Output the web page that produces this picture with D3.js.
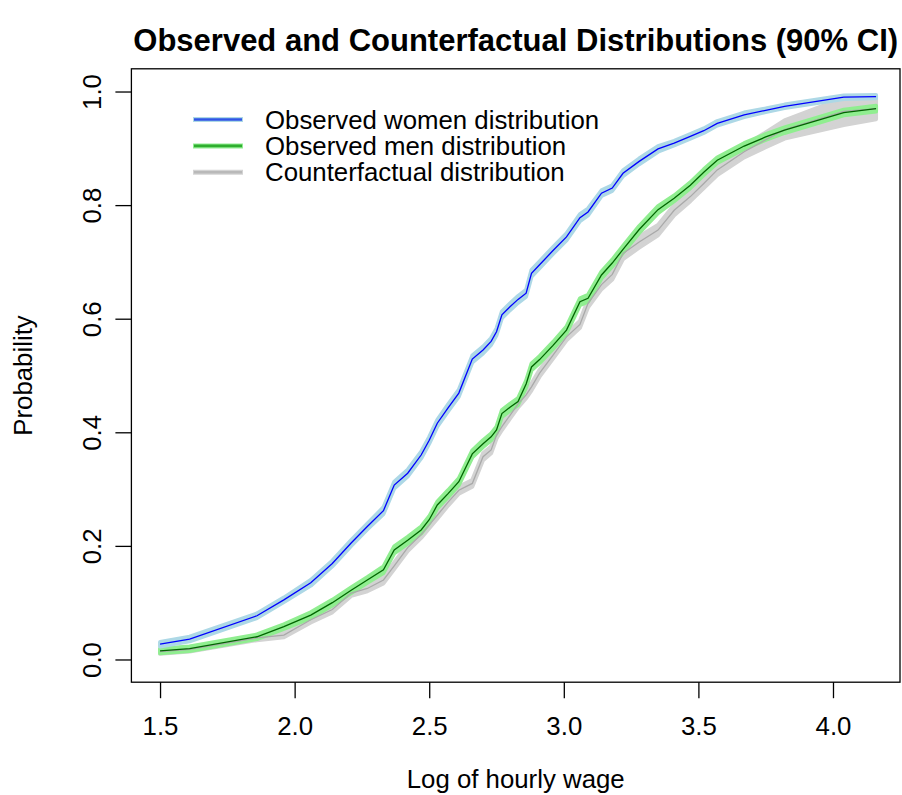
<html>
<head>
<script src="https://cdn.jsdelivr.net/npm/d3@7"></script>
<style>
  body { margin: 0; background: #fff; }
  svg text { font-family: "Liberation Sans", Arial, sans-serif; fill: #000; }
</style>
</head>
<body>
<script>
// log hourly wage grid
var wage = [1.50, 1.61, 1.86, 1.96, 2.06, 2.14, 2.21, 2.27, 2.33, 2.37, 2.42, 2.47, 2.50, 2.53, 2.57,
            2.61, 2.66, 2.70, 2.73, 2.75, 2.77, 2.80, 2.83, 2.86, 2.88, 2.91, 2.96, 3.01, 3.06, 3.09,
            3.14, 3.18, 3.22, 3.28, 3.35, 3.41, 3.47, 3.52, 3.57, 3.67, 3.75, 3.82, 4.04, 4.16];
// observed women
var women = [0.027, 0.036, 0.077, 0.105, 0.135, 0.169, 0.205, 0.234, 0.262, 0.307, 0.328, 0.360, 0.386, 0.416, 0.443,
             0.469, 0.529, 0.545, 0.560, 0.577, 0.607, 0.621, 0.634, 0.645, 0.680, 0.695, 0.720, 0.744, 0.778, 0.788,
             0.821, 0.830, 0.856, 0.877, 0.899, 0.909, 0.921, 0.931, 0.944, 0.959, 0.967, 0.974, 0.990, 0.991];
// observed men
var men = [0.015, 0.019, 0.040, 0.058, 0.078, 0.100, 0.122, 0.140, 0.158, 0.193, 0.210, 0.228, 0.246, 0.272, 0.292,
           0.313, 0.362, 0.380, 0.392, 0.404, 0.433, 0.444, 0.454, 0.485, 0.515, 0.528, 0.553, 0.580, 0.630, 0.636,
           0.677, 0.698, 0.722, 0.757, 0.792, 0.812, 0.835, 0.858, 0.879, 0.904, 0.920, 0.932, 0.963, 0.970];
// counterfactual
var counter = [0.014, 0.018, 0.038, 0.043, 0.070, 0.088, 0.117, 0.125, 0.140, 0.165, 0.197, 0.220, 0.237, 0.254, 0.277,
               0.298, 0.310, 0.357, 0.369, 0.395, 0.410, 0.430, 0.450, 0.466, 0.480, 0.504, 0.536, 0.568, 0.590, 0.627,
               0.660, 0.678, 0.715, 0.735, 0.756, 0.791, 0.815, 0.838, 0.862, 0.894, 0.915, 0.933, 0.965, 0.970];
// 90% CI half widths
var womenCI = [0.004, 0.004, 0.004, 0.004, 0.005, 0.005, 0.005, 0.005, 0.006, 0.006, 0.006, 0.006, 0.006, 0.006, 0.006,
               0.006, 0.006, 0.006, 0.006, 0.006, 0.006, 0.006, 0.006, 0.006, 0.006, 0.006, 0.006, 0.006, 0.006, 0.006,
               0.005, 0.005, 0.005, 0.005, 0.005, 0.004, 0.004, 0.004, 0.004, 0.004, 0.003, 0.003, 0.003, 0.003];
var menCI = [0.004, 0.004, 0.004, 0.004, 0.005, 0.005, 0.005, 0.005, 0.006, 0.006, 0.006, 0.006, 0.006, 0.006, 0.006,
             0.006, 0.006, 0.006, 0.006, 0.006, 0.006, 0.006, 0.006, 0.006, 0.006, 0.006, 0.006, 0.006, 0.006, 0.006,
             0.006, 0.006, 0.006, 0.006, 0.006, 0.005, 0.005, 0.005, 0.005, 0.005, 0.005, 0.005, 0.005, 0.005];
var counterCI = [0.004, 0.004, 0.004, 0.004, 0.005, 0.005, 0.005, 0.005, 0.006, 0.006, 0.006, 0.006, 0.006, 0.006, 0.006,
                 0.006, 0.006, 0.006, 0.006, 0.006, 0.006, 0.006, 0.006, 0.006, 0.006, 0.006, 0.006, 0.006, 0.006, 0.007,
                 0.008, 0.009, 0.010, 0.010, 0.009, 0.009, 0.008, 0.008, 0.009, 0.010, 0.013, 0.016, 0.024, 0.019];

var xTicks = [1.5, 2.0, 2.5, 3.0, 3.5, 4.0];
var yTicks = [0.0, 0.2, 0.4, 0.6, 0.8, 1.0];
var legendLabels = ["Observed women distribution", "Observed men distribution", "Counterfactual distribution"];

var W = 902, H = 795;
var box = {left: 131.4, right: 900, top: 68.8, bottom: 682.2};

var x = d3.scaleLinear().domain([1.3936, 4.2664]).range([131.4, 904.7]);
var y = d3.scaleLinear().domain([-0.04, 1.04]).range([box.bottom, box.top]);

var svg = d3.select("body").append("svg").attr("width", W).attr("height", H);

var series = [
  {vals: counter, ci: counterCI, band: "#D3D3D3", line: "#A9A9A9"},
  {vals: men, ci: menCI, band: "#90EE90", line: "#006400"},
  {vals: women, ci: womenCI, band: "#ADD8E6", line: "#0000FF"}
];

var plot = svg.append("g");

var area = d3.area()
  .x(function(d) { return x(d.x); })
  .y0(function(d) { return y(d.v - d.c); })
  .y1(function(d) { return y(d.v + d.c); });
var line = d3.line()
  .x(function(d) { return x(d.x); })
  .y(function(d) { return y(d.v); });

function pts(s) {
  return wage.map(function(w, i) { return {x: w, v: s.vals[i], c: s.ci[i]}; });
}

// bands first, lines on top
series.forEach(function(s) {
  plot.append("path").datum(pts(s))
    .attr("d", area)
    .attr("fill", s.band)
    .attr("stroke", s.band)
    .attr("stroke-width", 4)
    .attr("stroke-linejoin", "round");
});
series.forEach(function(s) {
  plot.append("path").datum(pts(s))
    .attr("d", line)
    .attr("fill", "none")
    .attr("stroke", s.line)
    .attr("stroke-width", 1.3);
});

// box
svg.append("rect")
  .attr("x", box.left).attr("y", box.top)
  .attr("width", box.right - box.left).attr("height", box.bottom - box.top)
  .attr("fill", "none").attr("stroke", "#000").attr("stroke-width", 1.3);

// x axis
var gx = svg.append("g").attr("transform", "translate(0," + box.bottom + ")")
  .call(d3.axisBottom(x).tickValues(xTicks).tickSize(16).tickFormat(d3.format(".1f")));
gx.select(".domain").remove();
gx.selectAll("line").attr("stroke", "#000").attr("stroke-width", 1.3);
gx.selectAll("text").attr("y", 53).attr("dy", null)
  .style("font-size", "25.8px").style("font-family", "Liberation Sans, Arial, sans-serif");

// y axis
var gy = svg.append("g").attr("transform", "translate(" + box.left + ",0)")
  .call(d3.axisLeft(y).tickValues(yTicks).tickSize(16).tickFormat(d3.format(".1f")));
gy.select(".domain").remove();
gy.selectAll("line").attr("stroke", "#000").attr("stroke-width", 1.3);
gy.selectAll("text")
  .attr("x", null).attr("dy", null)
  .attr("text-anchor", "middle")
  .attr("transform", "translate(-30.5,0) rotate(-90)")
  .style("font-size", "25.8px").style("font-family", "Liberation Sans, Arial, sans-serif");

// titles
svg.append("text")
  .attr("x", (box.left + 900) / 2).attr("y", 51)
  .attr("text-anchor", "middle")
  .style("font-size", "31px").style("font-weight", "bold")
  .text("Observed and Counterfactual Distributions (90% CI)");

svg.append("text")
  .attr("x", (box.left + 900) / 2).attr("y", 788)
  .attr("text-anchor", "middle")
  .style("font-size", "25.8px")
  .text("Log of hourly wage");

svg.append("text")
  .attr("transform", "translate(32," + ((box.top + box.bottom) / 2) + ") rotate(-90)")
  .attr("text-anchor", "middle")
  .style("font-size", "25.8px")
  .text("Probability");

// legend
var legendBand = ["#ADD8E6", "#90EE90", "#D3D3D3"];
var legendCore = ["#2f55e6", "#2fae2f", "#b9b9b9"];
var leg = svg.append("g").selectAll("g").data(legendLabels).enter().append("g")
  .attr("transform", function(d, i) { return "translate(193," + (119.5 + i * 26.4) + ")"; });
leg.append("line").attr("x1", 0).attr("x2", 50)
  .attr("stroke", function(d, i) { return legendBand[i]; }).attr("stroke-width", 5);
leg.append("line").attr("x1", 1).attr("x2", 49)
  .attr("stroke", function(d, i) { return legendCore[i]; }).attr("stroke-width", 2.6);
leg.append("text").attr("x", 72).attr("dy", "0.35em")
  .style("font-size", "25.8px")
  .text(function(d) { return d; });
</script>
</body>
</html>
